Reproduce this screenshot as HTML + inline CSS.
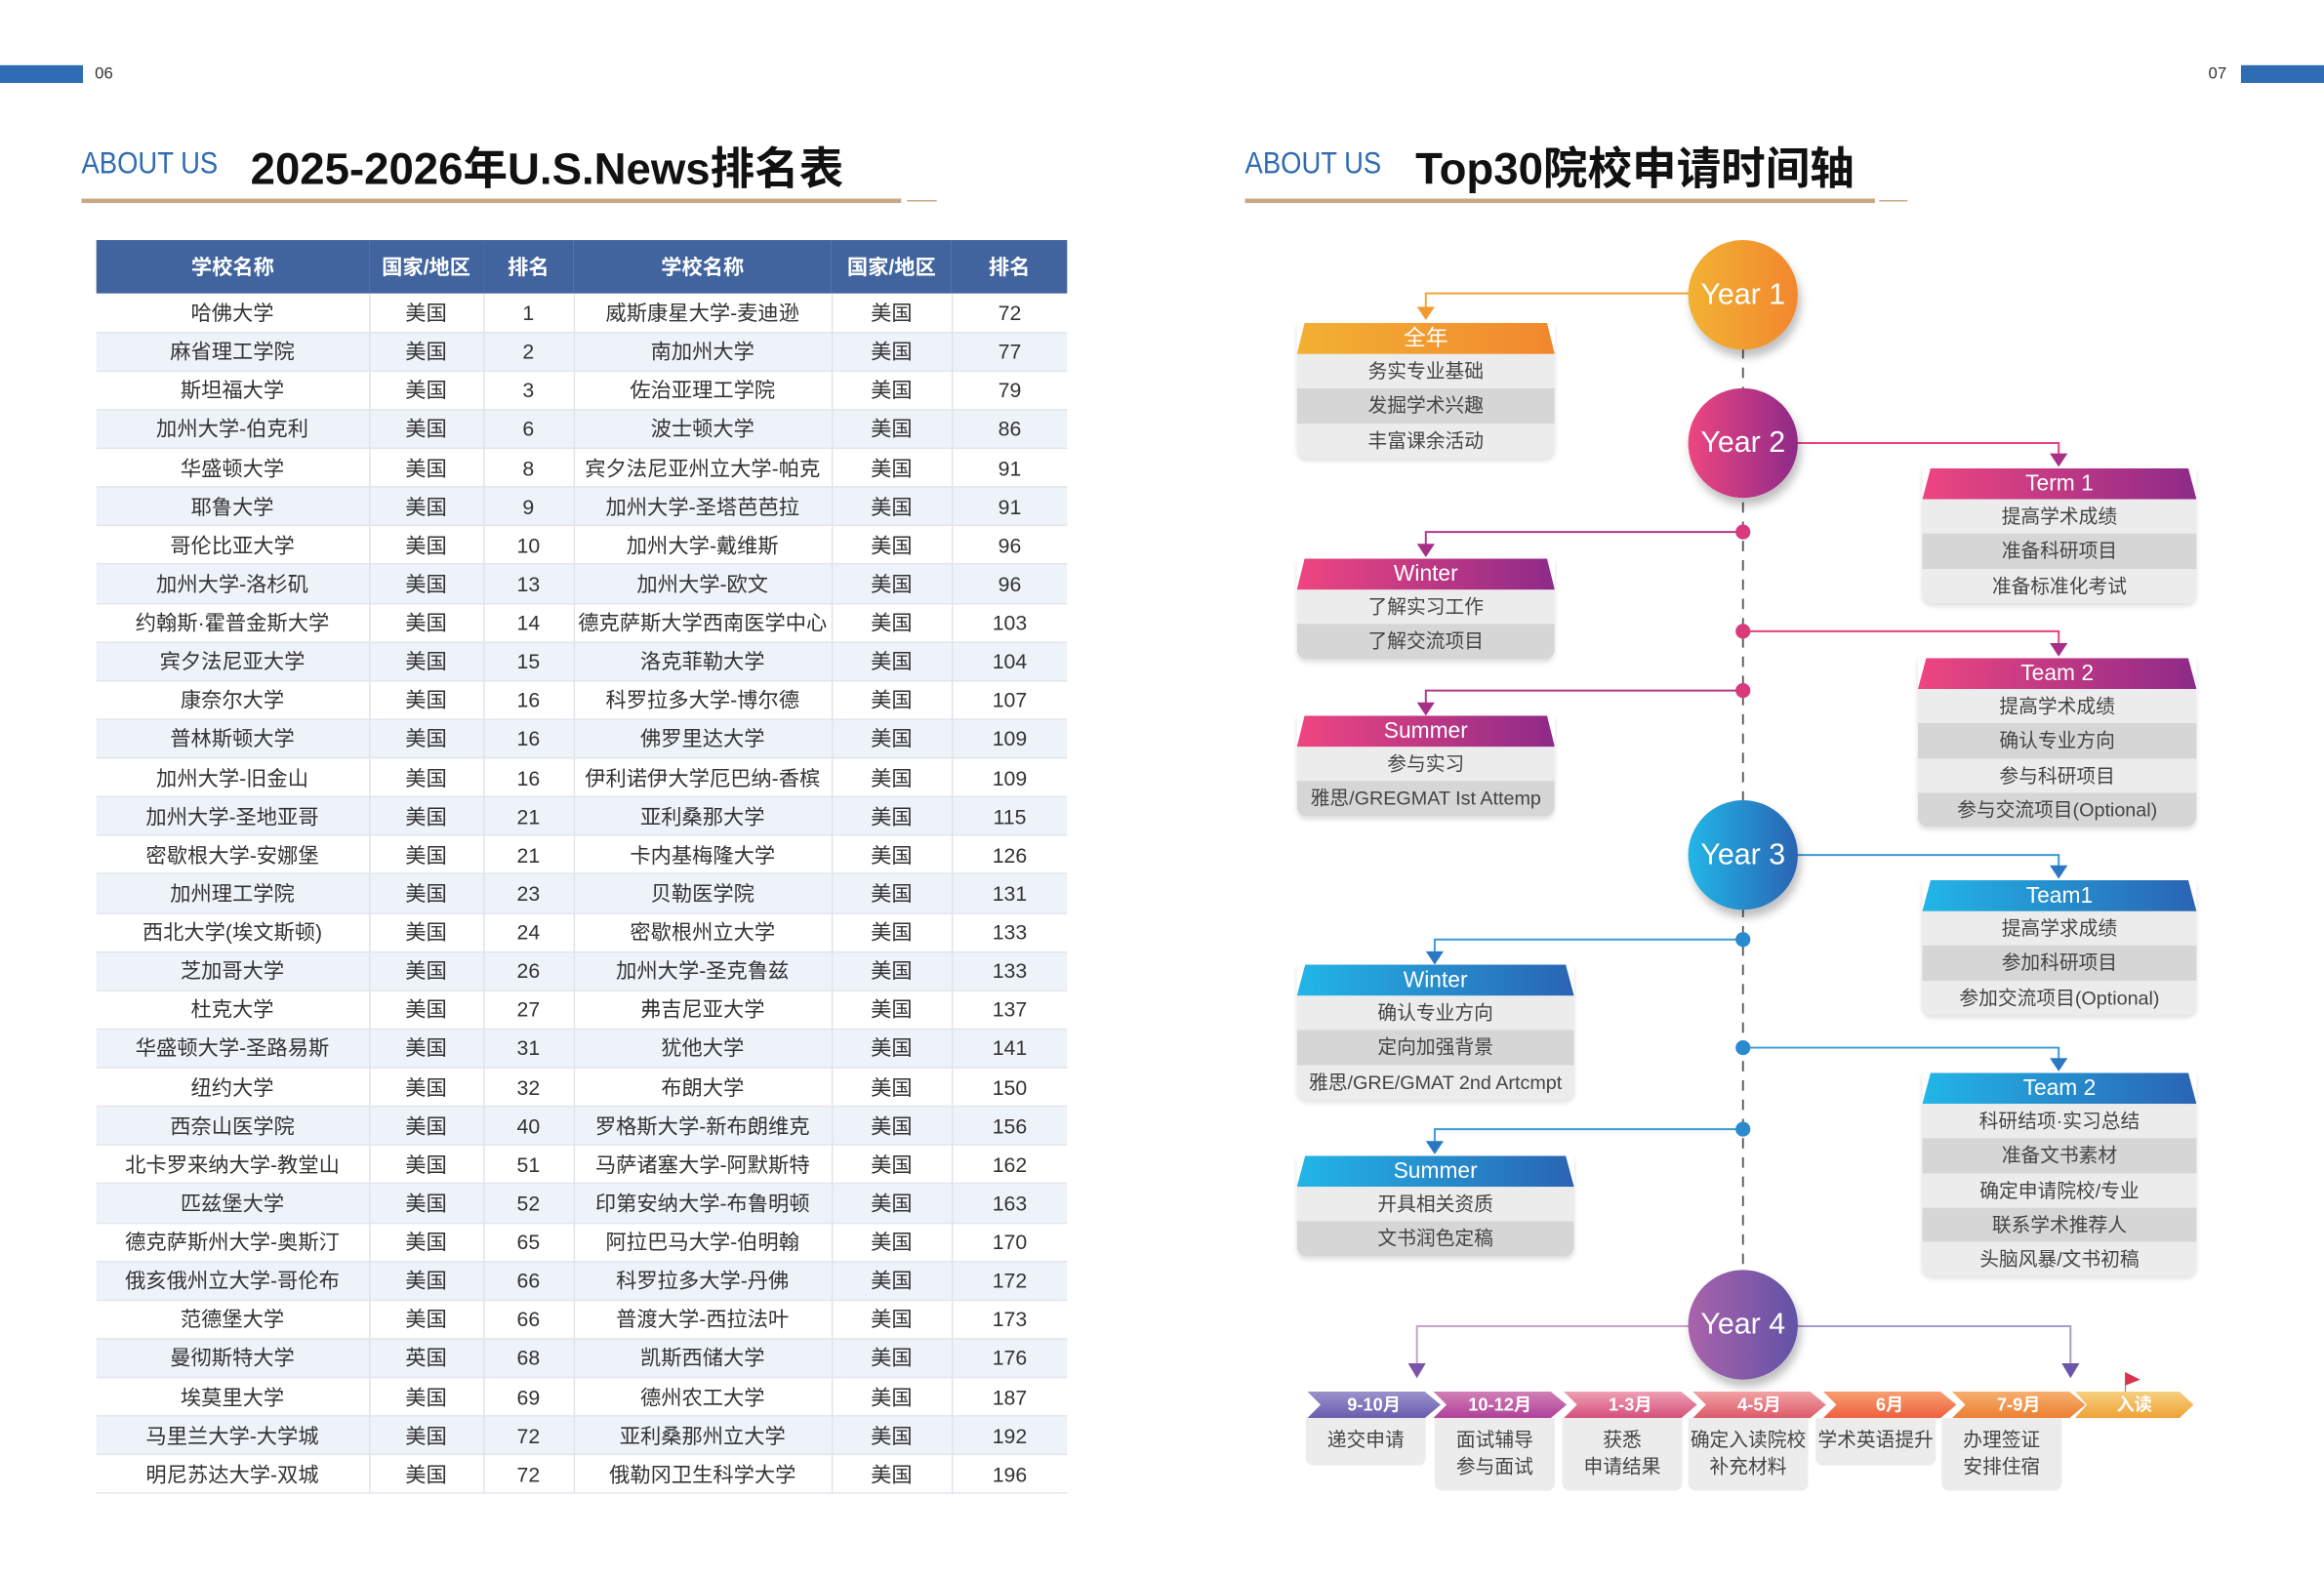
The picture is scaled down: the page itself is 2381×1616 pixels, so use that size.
<!DOCTYPE html>
<html><head><meta charset="utf-8">
<style>
*{margin:0;padding:0;box-sizing:border-box}
html,body{width:2381px;height:1615px;overflow:hidden;background:#fff}
#w{position:absolute;left:0;top:0;width:1568px;height:1064px;transform:scale(1.51849);transform-origin:0 0;font-family:"Liberation Sans","Noto Sans CJK SC",sans-serif}
.a{position:absolute}
.au{position:absolute;font-size:21px;color:#2f6bb0;transform:scaleX(0.86);transform-origin:0 0}
.tt{position:absolute;font-size:30px;font-weight:bold;color:#111}
.gl{position:absolute;height:3px;background:#c9a886}
table{position:absolute;left:65px;top:162px;width:655px;border-collapse:collapse;font-size:14px;color:#333}
th{background:#41649f;color:#fff;height:36px;font-weight:bold;font-size:14px}
td{height:26.13px;text-align:center;border-right:1px solid #dfe3ea;border-bottom:1px solid #e2e6ec;padding:0}
td:last-child{border-right:none}
tr:nth-child(odd) td{background:#eef3fa}
.bx{position:absolute;border-radius:0 0 7px 7px;overflow:hidden;box-shadow:0 2px 3px rgba(0,0,0,.12)}
.bh{height:21px;color:#fff;font-size:15px;text-align:center;line-height:21px;clip-path:polygon(3% 0,97% 0,100% 100%,0 100%)}
.br{height:23.3px;line-height:23.3px;text-align:center;font-size:13px;color:#444;background:#ececec;white-space:nowrap}
.br:nth-child(odd){background:#d6d6d6}
.o{background:linear-gradient(90deg,#f2b133,#f2872e)}
.p{background:linear-gradient(90deg,#ee4680,#8e2a88)}
.b{background:linear-gradient(90deg,#22b6e6,#2a64b3)}
.yc{position:absolute;width:74px;height:74px;border-radius:50%;color:#fff;font-size:20px;text-align:center;line-height:74px;box-shadow:2px 5px 6px rgba(0,0,0,.25)}
.cv{position:absolute;top:939px;height:18px;width:90px;color:#fff;font-size:12px;font-weight:bold;text-align:center;line-height:18px;clip-path:polygon(0 0,88% 0,100% 50%,88% 100%,0 100%,10% 50%)}
.cb{position:absolute;top:957px;width:81px;background:#ececec;border-radius:0 0 5px 5px;font-size:13px;color:#444;text-align:center;line-height:18px;padding-top:6px}
</style></head><body><div id="w">
<div class="a" style="left:0;top:44px;width:56px;height:12px;background:#2e6db4"></div>
<div class="a" style="left:64px;top:44px;font-size:11px;color:#333">06</div>
<div class="a" style="left:1512px;top:44px;width:56px;height:12px;background:#2e6db4"></div>
<div class="a" style="left:1490px;top:44px;font-size:11px;color:#333">07</div>

<div class="au" style="left:55px;top:99px">ABOUT US</div>
<div class="tt" style="left:169px;top:89px">2025-2026年U.S.News排名表</div>
<div class="gl" style="left:55px;top:134px;width:553px"></div>
<div class="a" style="left:612px;top:135px;width:20px;height:1px;background:#c9a886"></div>

<div class="au" style="left:840px;top:99px">ABOUT US</div>
<div class="tt" style="left:955px;top:89px">Top30院校申请时间轴</div>
<div class="gl" style="left:840px;top:134px;width:425px"></div>
<div class="a" style="left:1268px;top:135px;width:19px;height:1px;background:#c9a886"></div>

<table>
<colgroup><col style="width:184px"><col style="width:77px"><col style="width:61px"><col style="width:174px"><col style="width:81px"><col style="width:78px"></colgroup>
<tr><th>学校名称</th><th>国家/地区</th><th>排名</th><th>学校名称</th><th>国家/地区</th><th>排名</th></tr>
<tr><td>哈佛大学</td><td>美国</td><td>1</td><td>威斯康星大学-麦迪逊</td><td>美国</td><td>72</td></tr>
<tr><td>麻省理工学院</td><td>美国</td><td>2</td><td>南加州大学</td><td>美国</td><td>77</td></tr>
<tr><td>斯坦福大学</td><td>美国</td><td>3</td><td>佐治亚理工学院</td><td>美国</td><td>79</td></tr>
<tr><td>加州大学-伯克利</td><td>美国</td><td>6</td><td>波士顿大学</td><td>美国</td><td>86</td></tr>
<tr><td>华盛顿大学</td><td>美国</td><td>8</td><td>宾夕法尼亚州立大学-帕克</td><td>美国</td><td>91</td></tr>
<tr><td>耶鲁大学</td><td>美国</td><td>9</td><td>加州大学-圣塔芭芭拉</td><td>美国</td><td>91</td></tr>
<tr><td>哥伦比亚大学</td><td>美国</td><td>10</td><td>加州大学-戴维斯</td><td>美国</td><td>96</td></tr>
<tr><td>加州大学-洛杉矶</td><td>美国</td><td>13</td><td>加州大学-欧文</td><td>美国</td><td>96</td></tr>
<tr><td>约翰斯·霍普金斯大学</td><td>美国</td><td>14</td><td>德克萨斯大学西南医学中心</td><td>美国</td><td>103</td></tr>
<tr><td>宾夕法尼亚大学</td><td>美国</td><td>15</td><td>洛克菲勒大学</td><td>美国</td><td>104</td></tr>
<tr><td>康奈尔大学</td><td>美国</td><td>16</td><td>科罗拉多大学-博尔德</td><td>美国</td><td>107</td></tr>
<tr><td>普林斯顿大学</td><td>美国</td><td>16</td><td>佛罗里达大学</td><td>美国</td><td>109</td></tr>
<tr><td>加州大学-旧金山</td><td>美国</td><td>16</td><td>伊利诺伊大学厄巴纳-香槟</td><td>美国</td><td>109</td></tr>
<tr><td>加州大学-圣地亚哥</td><td>美国</td><td>21</td><td>亚利桑那大学</td><td>美国</td><td>115</td></tr>
<tr><td>密歇根大学-安娜堡</td><td>美国</td><td>21</td><td>卡内基梅隆大学</td><td>美国</td><td>126</td></tr>
<tr><td>加州理工学院</td><td>美国</td><td>23</td><td>贝勒医学院</td><td>美国</td><td>131</td></tr>
<tr><td>西北大学(埃文斯顿)</td><td>美国</td><td>24</td><td>密歇根州立大学</td><td>美国</td><td>133</td></tr>
<tr><td>芝加哥大学</td><td>美国</td><td>26</td><td>加州大学-圣克鲁兹</td><td>美国</td><td>133</td></tr>
<tr><td>杜克大学</td><td>美国</td><td>27</td><td>弗吉尼亚大学</td><td>美国</td><td>137</td></tr>
<tr><td>华盛顿大学-圣路易斯</td><td>美国</td><td>31</td><td>犹他大学</td><td>美国</td><td>141</td></tr>
<tr><td>纽约大学</td><td>美国</td><td>32</td><td>布朗大学</td><td>美国</td><td>150</td></tr>
<tr><td>西奈山医学院</td><td>美国</td><td>40</td><td>罗格斯大学-新布朗维克</td><td>美国</td><td>156</td></tr>
<tr><td>北卡罗来纳大学-教堂山</td><td>美国</td><td>51</td><td>马萨诸塞大学-阿默斯特</td><td>美国</td><td>162</td></tr>
<tr><td>匹兹堡大学</td><td>美国</td><td>52</td><td>印第安纳大学-布鲁明顿</td><td>美国</td><td>163</td></tr>
<tr><td>德克萨斯州大学-奥斯汀</td><td>美国</td><td>65</td><td>阿拉巴马大学-伯明翰</td><td>美国</td><td>170</td></tr>
<tr><td>俄亥俄州立大学-哥伦布</td><td>美国</td><td>66</td><td>科罗拉多大学-丹佛</td><td>美国</td><td>172</td></tr>
<tr><td>范德堡大学</td><td>美国</td><td>66</td><td>普渡大学-西拉法叶</td><td>美国</td><td>173</td></tr>
<tr><td>曼彻斯特大学</td><td>英国</td><td>68</td><td>凯斯西储大学</td><td>美国</td><td>176</td></tr>
<tr><td>埃莫里大学</td><td>美国</td><td>69</td><td>德州农工大学</td><td>美国</td><td>187</td></tr>
<tr><td>马里兰大学-大学城</td><td>美国</td><td>72</td><td>亚利桑那州立大学</td><td>美国</td><td>192</td></tr>
<tr><td>明尼苏达大学-双城</td><td>美国</td><td>72</td><td>俄勒冈卫生科学大学</td><td>美国</td><td>196</td></tr>
</table>

<svg class="a" style="left:0;top:0" width="1568" height="1064">
<line x1="1176" y1="235" x2="1176" y2="860" stroke="#555" stroke-width="1.2" stroke-dasharray="7,6"/>
<polyline points="1140,198 962,198 962,210" fill="none" stroke="#f2a23a" stroke-width="1.3"/>
<polygon points="956,207 968,207 962,216" fill="#f29a32"/>
<polyline points="1212,299 1389,299 1389,308" fill="none" stroke="#e8407a" stroke-width="1.3"/>
<polygon points="1383,306 1395,306 1389,315" fill="#a82e86"/>
<polyline points="1176,359 962,359 962,370" fill="none" stroke="#b0388a" stroke-width="1.3"/>
<polygon points="956,367 968,367 962,376" fill="#a82e86"/>
<circle cx="1176" cy="359" r="5" fill="#d83a7c"/>
<polyline points="1176,426 1389,426 1389,436" fill="none" stroke="#e8407a" stroke-width="1.3"/>
<polygon points="1383,434 1395,434 1389,443" fill="#a82e86"/>
<circle cx="1176" cy="426" r="5" fill="#d83a7c"/>
<polyline points="1176,466 962,466 962,476" fill="none" stroke="#b0388a" stroke-width="1.3"/>
<polygon points="956,474 968,474 962,483" fill="#a82e86"/>
<circle cx="1176" cy="466" r="5" fill="#d83a7c"/>
<polyline points="1212,577 1389,577 1389,585" fill="none" stroke="#3a9ad6" stroke-width="1.3"/>
<polygon points="1383,584 1395,584 1389,593" fill="#2a78c4"/>
<polyline points="1176,634 968,634 968,643" fill="none" stroke="#3a9ad6" stroke-width="1.3"/>
<polygon points="962,642 974,642 968,651" fill="#2a78c4"/>
<circle cx="1176" cy="634" r="5" fill="#2a8ad0"/>
<polyline points="1176,707 1389,707 1389,715" fill="none" stroke="#3a9ad6" stroke-width="1.3"/>
<polygon points="1383,714 1395,714 1389,723" fill="#2a78c4"/>
<circle cx="1176" cy="707" r="5" fill="#2a8ad0"/>
<polyline points="1176,762 968,762 968,771" fill="none" stroke="#3a9ad6" stroke-width="1.3"/>
<polygon points="962,770 974,770 968,779" fill="#2a78c4"/>
<circle cx="1176" cy="762" r="5" fill="#2a8ad0"/>
<polyline points="1140,895 956,895 956,920" fill="none" stroke="#c9a0cc" stroke-width="1.3"/>
<polygon points="950,920 962,920 956,930" fill="#7b55a8"/>
<polyline points="1212,895 1397,895 1397,920" fill="none" stroke="#a89acc" stroke-width="1.3"/>
<polygon points="1391,920 1403,920 1397,930" fill="#6a55a8"/>
<line x1="1434" y1="926" x2="1434" y2="940" stroke="#888" stroke-width="0.8"/>
<polygon points="1434,926 1444,931 1434,935" fill="#d8344e"/>
</svg>

<div class="yc" style="left:1139px;top:162px;background:linear-gradient(90deg,#f2b233,#f2872e)">Year 1</div>
<div class="yc" style="left:1139px;top:262px;background:linear-gradient(90deg,#ee4680,#8e2a88)">Year 2</div>
<div class="yc" style="left:1139px;top:540px;background:linear-gradient(90deg,#22b6e6,#2a64b3)">Year 3</div>
<div class="yc" style="left:1139px;top:857px;background:linear-gradient(90deg,#ab63ab,#6152a6)">Year 4</div>

<div class="bx" style="left:875px;top:218px;width:174px"><div class="bh o">全年</div><div class="br">务实专业基础</div><div class="br">发掘学术兴趣</div><div class="br">丰富课余活动</div></div>
<div class="bx" style="left:875px;top:377px;width:174px"><div class="bh p">Winter</div><div class="br">了解实习工作</div><div class="br">了解交流项目</div></div>
<div class="bx" style="left:875px;top:483px;width:174px"><div class="bh p">Summer</div><div class="br">参与实习</div><div class="br">雅思/GREGMAT Ist Attemp</div></div>
<div class="bx" style="left:1297px;top:316px;width:185px"><div class="bh p">Term 1</div><div class="br">提高学术成绩</div><div class="br">准备科研项目</div><div class="br">准备标准化考试</div></div>
<div class="bx" style="left:1294px;top:444px;width:188px"><div class="bh p">Team 2</div><div class="br">提高学术成绩</div><div class="br">确认专业方向</div><div class="br">参与科研项目</div><div class="br">参与交流项目(Optional)</div></div>
<div class="bx" style="left:1297px;top:594px;width:185px"><div class="bh b">Team1</div><div class="br">提高学求成绩</div><div class="br">参加科研项目</div><div class="br">参加交流项目(Optional)</div></div>
<div class="bx" style="left:875px;top:651px;width:187px"><div class="bh b">Winter</div><div class="br">确认专业方向</div><div class="br">定向加强背景</div><div class="br">雅思/GRE/GMAT 2nd Artcmpt</div></div>
<div class="bx" style="left:1297px;top:724px;width:185px"><div class="bh b">Team 2</div><div class="br">科研结项·实习总结</div><div class="br">准备文书素材</div><div class="br">确定申请院校/专业</div><div class="br">联系学术推荐人</div><div class="br">头脑风暴/文书初稿</div></div>
<div class="bx" style="left:875px;top:780px;width:187px"><div class="bh b">Summer</div><div class="br">开具相关资质</div><div class="br">文书润色定稿</div></div>

<div class="cv" style="left:882px;background:linear-gradient(#9a92cc,#6b5cae)">9-10月</div>
<div class="cv" style="left:967px;background:linear-gradient(#d27fb6,#b0409a)">10-12月</div>
<div class="cv" style="left:1055px;background:linear-gradient(#f0a0b6,#d44f78)">1-3月</div>
<div class="cv" style="left:1142px;background:linear-gradient(#f2a2a4,#dc5a6a)">4-5月</div>
<div class="cv" style="left:1230px;background:linear-gradient(#f8a070,#ee5f3e)">6月</div>
<div class="cv" style="left:1317px;background:linear-gradient(#f7b070,#ec7f32)">7-9月</div>
<div class="cv" style="left:1400px;width:80px;background:linear-gradient(#f6d080,#efa236)">入读</div>
<div class="cb" style="left:881px;height:32px">递交申请</div>
<div class="cb" style="left:968px;height:49px">面试辅导<br>参与面试</div>
<div class="cb" style="left:1054px;height:49px">获悉<br>申请结果</div>
<div class="cb" style="left:1139px;height:49px">确定入读院校<br>补充材料</div>
<div class="cb" style="left:1225px;height:32px">学术英语提升</div>
<div class="cb" style="left:1310px;height:49px">办理签证<br>安排住宿</div>
</div></body></html>
